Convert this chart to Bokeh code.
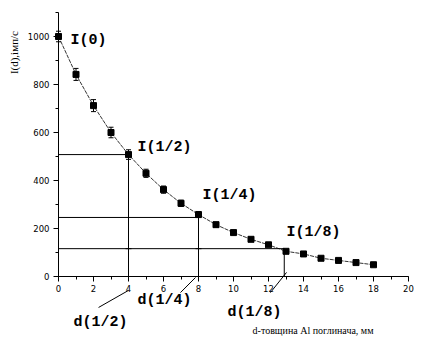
import math
from bokeh.plotting import figure
from bokeh.models import Range1d, Label, Arrow, Whisker, ColumnDataSource, TeeHead, SingleIntervalTicker
from bokeh.embed import file_html
from bokeh.resources import INLINE

# data
d_mm = [0, 1, 2, 3, 4, 5, 6, 7, 8, 9, 10, 11, 12, 13, 14, 15, 16, 17, 18]
intensity = [1000, 842, 712, 600, 508, 430, 362, 305, 258, 216, 183, 155, 132, 105, 94, 76, 67, 58, 49]
errors = [22, 25, 25, 22, 20, 17, 15, 13, 12, 10, 8, 8, 6, 5, 5, 4, 4, 3, 3]

half_d = [4, 8, 12.9]
half_I = [508, 246, 116]
top_labels = ["I(1/2)", "I(1/4)", "I(1/8)"]
bottom_labels = ["d(1/2)", "d(1/4)", "d(1/8)"]

p = figure(width=415, height=356, output_backend="svg", toolbar_location=None,
           x_range=Range1d(-58 / 17.5, (415 - 58) / 17.5),
           y_range=Range1d((276 - 356) / 0.24, 276 / 0.24),
           min_border=0, min_border_left=0, min_border_right=0, min_border_top=0, min_border_bottom=0)
p.outline_line_color = None
p.grid.visible = False
p.background_fill_color = "white"
p.border_fill_color = "white"

for ax in (p.xaxis[0], p.yaxis[0]):
    ax.fixed_location = 0
    ax.major_tick_in = 0
    ax.minor_tick_in = 0
    ax.major_tick_out = 5
    ax.minor_tick_out = 3
    ax.axis_line_color = "black"
    ax.major_tick_line_color = "black"
    ax.minor_tick_line_color = "black"
    ax.major_label_text_font = "DejaVu Sans"
    ax.major_label_text_font_size = "8.5px"
    ax.major_label_text_color = "black"
p.xaxis.bounds = (0, 20)
p.yaxis.bounds = (0, 1100)
p.xaxis.ticker = SingleIntervalTicker(interval=2, num_minor_ticks=2)
p.yaxis.ticker = SingleIntervalTicker(interval=200, num_minor_ticks=2)
p.xaxis.major_label_standoff = 3
p.yaxis.major_label_standoff = 4

# reference lines
p.segment(x0=[0] * 3, y0=half_I, x1=half_d, y1=half_I, line_color="black", line_width=1)
p.segment(x0=half_d, y0=[0] * 3, x1=half_d, y1=half_I, line_color="black", line_width=1)
p.scatter(x=half_d[:2], y=[half_I[2]] * 2, marker="cross", size=6, line_color="black")

# data line and markers
p.line(d_mm, intensity, line_color="black", line_width=0.8, line_dash="4 1")
src = ColumnDataSource(dict(x=d_mm, lo=[i - e for i, e in zip(intensity, errors)],
                            hi=[i + e for i, e in zip(intensity, errors)]))
w = Whisker(base="x", lower="lo", upper="hi", source=src, line_color="black", line_width=1,
            upper_head=TeeHead(size=5, line_color="black"), lower_head=TeeHead(size=5, line_color="black"))
p.add_layout(w)
p.scatter(d_mm, intensity, marker="square", size=6, fill_color="black", line_color="black")

mono = dict(text_font="Liberation Mono", text_font_style="bold", text_font_size="15px",
            text_color="black", text_baseline="middle")
p.add_layout(Label(x=0.69, y=983, text="I(0)", **mono))
for tx, ty, t in zip([4.51, 8.23, 13.03], [537, 337, 183], top_labels):
    p.add_layout(Label(x=tx, y=ty, text=t, **mono))
for tx, ty, t in zip([0.86, 4.51, 9.66], [-192, -100, -150], bottom_labels):
    p.add_layout(Label(x=tx, y=ty, text=t, **mono))

# leader lines
for x0, y0, x1, y1 in [(4, -58, 2.29, -129), (7.83, -4, 6.97, -67), (13.03, 17, 12.11, -67)]:
    p.add_layout(Arrow(x_start=x0, y_start=y0, x_end=x1, y_end=y1, end=None, start=None,
                       line_color="black", line_width=1))

p.add_layout(Label(x=11.09, y=-225, text="d-товщина Al  поглинача, мм", text_font="Liberation Serif",
                   text_font_size="10px", text_color="black", text_baseline="middle"))
p.add_layout(Label(x=-2.57, y=933, text="I(d),імп/с", text_font="Liberation Serif", angle=math.pi / 2,
                   text_font_size="11px", text_color="black", text_baseline="middle", text_align="center"))

open("out.html", "w").write(file_html(p, INLINE))
